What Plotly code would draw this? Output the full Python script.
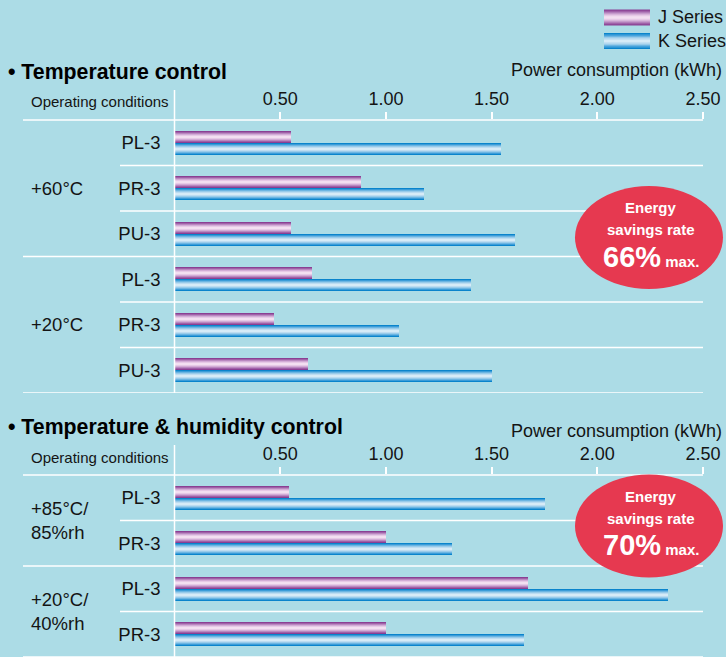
import plotly.graph_objects as go

# ---------------- data ----------------
series_names = ["J Series", "K Series"]

top_groups = ["+60°C", "+20°C"]
top_models = ["PL-3", "PR-3", "PU-3", "PL-3", "PR-3", "PU-3"]
top_group_of_row = [0, 0, 0, 1, 1, 1]
top_j = [0.55, 0.88, 0.55, 0.65, 0.47, 0.63]
top_k = [1.54, 1.18, 1.61, 1.40, 1.06, 1.50]

bot_groups = ["+85°C/<br>85%rh", "+20°C/<br>40%rh"]
bot_models = ["PL-3", "PR-3", "PL-3", "PR-3"]
bot_group_of_row = [0, 0, 1, 1]
bot_j = [0.54, 1.00, 1.67, 1.00]
bot_k = [1.75, 1.31, 2.33, 1.65]

tick_vals = [0.5, 1.0, 1.5, 2.0, 2.5]
tick_text = ["0.50", "1.00", "1.50", "2.00", "2.50"]

top_title = "• Temperature control"
bot_title = "• Temperature & humidity control"
axis_title = "Power consumption (kWh)"
row_header = "Operating conditions"
top_rate = "66%"
bot_rate = "70%"

# ---------------- style ----------------
W, H = 726, 657
BG = "#acdce6"
FONT = "Liberation Sans, Arial, Helvetica, sans-serif"
TXT = "#141414"
J_COLS = ["#8a4093", "#a060a8", "#b988c0", "#d2acd6", "#e6c9e6", "#f3dff1"]
K_COLS = ["#0a84cc", "#3a9cd8", "#6cb5e2", "#98cbea", "#bcdcf1", "#d6ebf7"]
RED = "#e63950"

X0 = 174.5          # pixel of value 0
PPU = 211.4         # pixels per kWh
ROW_PX = 45.5
BAR_PX = 12.0


def px(x):
    return x / W


def py(y):
    return 1 - y / H


xmax = (W - X0) / PPU
bw = BAR_PX / ROW_PX

fig = go.Figure()


def add_bars(vals_j, vals_k, xa, ya):
    n = len(vals_j)
    idx = list(range(n))
    nl = len(J_COLS)
    for vals, cols, sign, name in ((vals_j, J_COLS, -1, series_names[0]),
                                   (vals_k, K_COLS, 1, series_names[1])):
        for k in range(nl):
            w = bw * (nl - k) / nl
            fig.add_trace(go.Bar(
                x=vals, y=idx, orientation="h",
                width=[w] * n, offset=[sign * bw / 2 - w / 2] * n,
                marker=dict(color=cols[k], line=dict(width=0)),
                xaxis=xa, yaxis=ya, showlegend=False, name=name,
                hoverinfo="x+name",
            ))


add_bars(top_j, top_k, "x", "y")
add_bars(bot_j, bot_k, "x2", "y2")

xcommon = dict(range=[0, xmax], domain=[px(X0), 1], side="top",
               tickvals=tick_vals, ticktext=tick_text, ticks="outside",
               ticklen=7, tickwidth=1.5, tickcolor="white",
               tickfont=dict(family=FONT, size=18, color=TXT),
               showgrid=False, zeroline=False, showline=False, fixedrange=True)

fig.update_layout(
    width=W, height=H, margin=dict(l=0, r=0, t=0, b=0),
    paper_bgcolor=BG, plot_bgcolor=BG, barmode="overlay", bargap=0,
    showlegend=False,
    xaxis=dict(anchor="y", **xcommon),
    xaxis2=dict(anchor="y2", **xcommon),
    yaxis=dict(anchor="x", domain=[py(393), py(120)], range=[5.5, -0.5],
               tickvals=list(range(len(top_models))), ticktext=top_models,
               ticks="", ticklabelstandoff=13,
               tickfont=dict(family=FONT, size=18.5, color=TXT),
               showgrid=False, zeroline=False, showline=False),
    yaxis2=dict(anchor="x2", domain=[py(657), py(475)], range=[3.5, -0.5],
                tickvals=list(range(len(bot_models))), ticktext=bot_models,
                ticks="", ticklabelstandoff=13,
                tickfont=dict(family=FONT, size=18.5, color=TXT),
                showgrid=False, zeroline=False, showline=False),
)

shapes = []
annos = []
LINE = dict(color="white", width=1.5)


def panel_lines(yref, groups_of_row, header_px, vtop_px, vbot_px):
    n = len(groups_of_row)
    shapes.append(dict(type="line", xref="paper", yref="paper",
                       x0=px(23), x1=px(703), y0=py(header_px), y1=py(header_px),
                       line=LINE, layer="below"))
    for i in range(n):
        b = i + 0.5
        last = i == n - 1
        new_group = last or groups_of_row[i + 1] != groups_of_row[i]
        xs = 23 if new_group else 120
        shapes.append(dict(type="line", xref="paper", yref=yref,
                           x0=px(xs), x1=px(703), y0=b, y1=b,
                           line=LINE, layer="below"))
    shapes.append(dict(type="line", xref="paper", yref="paper",
                       x0=px(X0), x1=px(X0), y0=py(vtop_px), y1=py(vbot_px),
                       line=LINE, layer="above"))


panel_lines("y", top_group_of_row, 120, 90, 393)
panel_lines("y2", bot_group_of_row, 475, 445, 657)


def group_labels(yref, groups, groups_of_row):
    for g, lab in enumerate(groups):
        rows = [i for i, gg in enumerate(groups_of_row) if gg == g]
        yc = sum(rows) / len(rows)
        annos.append(dict(xref="paper", yref=yref, x=px(29), y=yc,
                          xanchor="left", yanchor="middle", text=lab,
                          showarrow=False, align="left",
                          font=dict(family=FONT, size=18.5, color=TXT)))


group_labels("y", top_groups, top_group_of_row)
group_labels("y2", bot_groups, bot_group_of_row)

for title, ty, ay, hy in ((top_title, 72, 70, 101), (bot_title, 427, 431, 457)):
    annos.append(dict(xref="paper", yref="paper", x=px(6), y=py(ty),
                      xanchor="left", yanchor="middle", showarrow=False,
                      text="<b>" + title + "</b>",
                      font=dict(family=FONT, size=21.3, color="#000")))
    annos.append(dict(xref="paper", yref="paper", x=px(724), y=py(ay),
                      xanchor="right", yanchor="middle", showarrow=False,
                      text=axis_title,
                      font=dict(family=FONT, size=18, color=TXT)))
    annos.append(dict(xref="paper", yref="paper", x=px(29), y=py(hy),
                      xanchor="left", yanchor="middle", showarrow=False,
                      text=row_header,
                      font=dict(family=FONT, size=15, color=TXT)))

for rate, cy in ((top_rate, 237.5), (bot_rate, 526)):
    shapes.append(dict(type="circle", xref="paper", yref="paper",
                       x0=px(575), x1=px(723), y0=py(cy + 51.5), y1=py(cy - 51.5),
                       fillcolor=RED, line=dict(width=0), layer="above"))
    annos.append(dict(xref="paper", yref="paper", x=px(651), y=py(cy - 30),
                      xanchor="center", yanchor="middle", showarrow=False,
                      text="<b>Energy</b>",
                      font=dict(family=FONT, size=15, color="white")))
    annos.append(dict(xref="paper", yref="paper", x=px(651), y=py(cy - 8),
                      xanchor="center", yanchor="middle", showarrow=False,
                      text="<b>savings rate</b>",
                      font=dict(family=FONT, size=15, color="white")))
    annos.append(dict(xref="paper", yref="paper", x=px(651), y=py(cy + 19),
                      xanchor="center", yanchor="middle", showarrow=False,
                      text="<b><span style='font-size:29px'>" + rate + "</span> max.</b>",
                      font=dict(family=FONT, size=15, color="white")))

for s, (name, cols, ly) in enumerate(zip(series_names, (J_COLS, K_COLS), (17.5, 41))):
    nl = len(cols)
    for k in range(nl):
        hh = 8 * (nl - k) / nl
        shapes.append(dict(type="rect", xref="paper", yref="paper",
                           x0=px(604), x1=px(650), y0=py(ly + hh), y1=py(ly - hh),
                           fillcolor=cols[k], line=dict(width=0)))
    annos.append(dict(xref="paper", yref="paper", x=px(656), y=py(ly),
                      xanchor="left", yanchor="middle", showarrow=False,
                      text=name, font=dict(family=FONT, size=18, color=TXT)))

fig.update_layout(shapes=shapes, annotations=annos)
fig.write_html("out.html", config={"displayModeBar": False},
               post_script="document.body.style.margin='0';document.body.style.overflow='hidden';")
